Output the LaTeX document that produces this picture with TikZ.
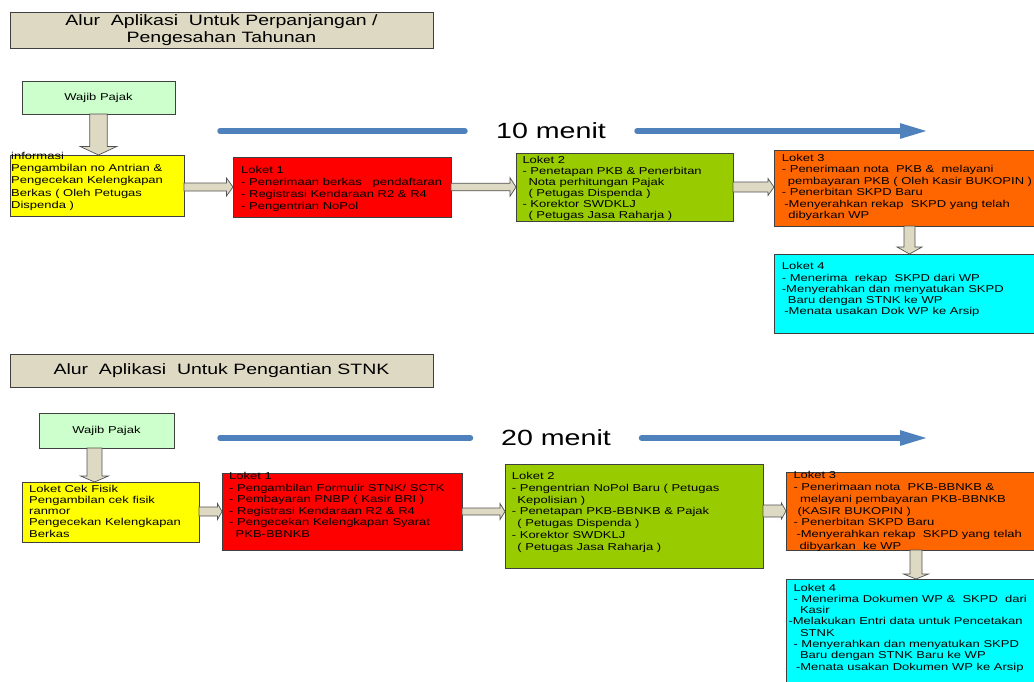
\documentclass[tikz,border=0pt]{standalone}
\usepackage{fontspec}
\setmainfont{Liberation Sans}[FakeStretch=1.3]
\usepackage[x11names,svgnames]{xcolor}
\usepackage{tikz}
\usetikzlibrary{calc,arrows.meta}

\definecolor{abu}{HTML}{DDD9C3}
\definecolor{garis}{HTML}{404040}
\definecolor{hijaumuda}{HTML}{CCFFCC}
\definecolor{kuning}{HTML}{FFFF00}
\definecolor{merah}{HTML}{FF0000}
\definecolor{hijau}{HTML}{99CC00}
\definecolor{oranye}{HTML}{FF6600}
\definecolor{biru}{HTML}{00FFFF}
\definecolor{garisbiru}{HTML}{4F81BD}

\tikzset{
  kotak/.style={draw=garis, line width=0.8pt, anchor=north west, inner sep=0pt, outer sep=0pt},
  judul/.style={kotak, fill=abu, line width=1pt, align=center, font=\fontsize{15}{17.6}\selectfont},
  wajib/.style={kotak, fill=hijaumuda, font=\fontsize{10}{12}\selectfont},
  isi/.style={anchor=north west, align=left, inner sep=0pt, font=\fontsize{10}{#1}\selectfont},
  isi/.default=11.6,
  menit/.style={inner ysep=0pt, font=\fontsize{22}{24}\selectfont},
  waktu/.style={draw=garisbiru, line width=5.5pt, line cap=round},
  blok/.style n args={3}{draw=garis!90, fill=abu, line width=0.7pt,
    to path={($(\tikztostart)!#1!-90:(\tikztotarget)$)
      -- ($(\tikztotarget)!#3!(\tikztostart)!#1!90:(\tikztostart)$)
      -- ($(\tikztotarget)!#3!(\tikztostart)!#2!90:(\tikztostart)$)
      -- (\tikztotarget)
      -- ($(\tikztotarget)!#3!(\tikztostart)!#2!-90:(\tikztostart)$)
      -- ($(\tikztotarget)!#3!(\tikztostart)!#1!-90:(\tikztostart)$)
      -- ($(\tikztostart)!#1!90:(\tikztotarget)$) -- cycle}},
}

\begin{document}
\begin{tikzpicture}[x=1pt, y=-1pt]
  \useasboundingbox (0,0) rectangle (1034,681);
  \clip (0,0) rectangle (1034,681);

  % perpanjangan / pengesahan
  \node[judul, minimum width=423pt, minimum height=36pt] (judul1) at (10,12)
    {Alur\ \ Aplikasi\ \ Untuk Perpanjangan /\\Pengesahan Tahunan};
  \node[wajib, minimum width=153pt, minimum height=33pt] (wp1) at (22,81) {Wajib Pajak};
  \node[kotak, fill=kuning, minimum width=174pt, minimum height=61pt] (info1) at (10,155) {};
  \node[kotak, fill=merah, minimum width=218pt, minimum height=60pt] (lk1a) at (233,157) {};
  \node[kotak, fill=hijau, minimum width=217pt, minimum height=68pt] (lk2a) at (516,153) {};
  \node[kotak, fill=oranye, minimum width=271pt, minimum height=76pt] (lk3a) at (774,150) {};
  \node[kotak, fill=biru, minimum width=271pt, minimum height=79pt] (lk4a) at (774,254) {};

  \node[isi=12.4, xshift=1pt, yshift=3.4pt] (t-info1) at (info1.north west)
    {informasi\\Pengambilan no Antrian \&\\Pengecekan Kelengkapan\\Berkas ( Oleh Petugas\\Dispenda )};
  \node[isi=12, xshift=8pt, yshift=-8.6pt] (t-lk1a) at (lk1a.north west)
    {Loket 1\\- Penerimaan berkas\ \ \ pendaftaran\\- Registrasi Kendaraan R2 \& R4\\- Pengentrian NoPol};
  \node[isi=11.1, xshift=6.3pt, yshift=-2.6pt] (t-lk2a) at (lk2a.north west)
    {Loket 2\\- Penetapan PKB \& Penerbitan\\\hspace*{6pt}Nota perhitungan Pajak\\\hspace*{6pt}( Petugas Dispenda )\\- Korektor SWDKLJ\\\hspace*{6pt}( Petugas Jasa Raharja )};
  \node[isi=11.5, xshift=7.7pt, yshift=-3.6pt] (t-lk3a) at (lk3a.north west)
    {Loket 3\\- Penerimaan nota\ \ PKB \&\ \ melayani\\\hspace*{6pt}pembayaran PKB ( Oleh Kasir BUKOPIN )\\- Penerbitan SKPD Baru\\\hspace*{2.5pt}-Menyerahkan rekap\ \ SKPD yang telah\\\hspace*{6.5pt}dibyarkan WP};
  \node[isi=11.25, xshift=7.7pt, yshift=-8.3pt] (t-lk4a) at (lk4a.north west)
    {Loket 4\\- Menerima\ \ rekap\ \ SKPD dari WP\\-Menyerahkan dan menyatukan SKPD\\\hspace*{6pt}Baru dengan STNK ke WP\\\hspace*{2.5pt}-Menata usakan Dok WP ke Arsip};

  \coordinate (w1a) at (220,131);
  \coordinate (w1b) at (928,131);
  \node[menit, inner xsep=31pt] (m1) at (551,131) {10 menit};
  \draw[waktu] (w1a) -- (m1.west);
  \draw[waktu, -{Triangle[length=28pt,width=14pt]}] (m1.east) -- (w1b);

  \draw[blok={8.7pt}{18.3pt}{8.5pt}] (wp1.south) to (wp1.south |- info1.north);
  \draw[blok={4pt}{9pt}{6.5pt}] (info1.east |- lk1a.west) to (lk1a.west);
  \draw[blok={3.8pt}{9.3pt}{6pt}] (lk1a.east) to (lk1a.east -| lk2a.west);
  \draw[blok={5pt}{8.5pt}{6pt}] (lk2a.east) to (lk2a.east -| lk3a.west);
  \draw[blok={5.5pt}{12.5pt}{7pt}] (lk3a.south) to (lk3a.south |- lk4a.north);

  % pengantian stnk
  \node[judul, minimum width=423pt, minimum height=33pt] (judul2) at (10,354)
    {Alur\ \ Aplikasi\ \ Untuk Pengantian STNK};
  \node[wajib, minimum width=135pt, minimum height=35pt] (wp2) at (39,413) {Wajib Pajak};
  \node[kotak, fill=kuning, minimum width=177pt, minimum height=60pt] (info2) at (22,482) {};
  \node[kotak, fill=merah, minimum width=240pt, minimum height=77pt] (lk1b) at (222,473) {};
  \node[kotak, fill=hijau, minimum width=258pt, minimum height=104pt] (lk2b) at (505,464) {};
  \node[kotak, fill=oranye, minimum width=260pt, minimum height=78pt] (lk3b) at (786,472) {};
  \node[kotak, fill=biru, minimum width=260pt, minimum height=110pt] (lk4b) at (786,579) {};

  \node[isi=11.3, xshift=7pt, yshift=-2.6pt] (t-info2) at (info2.north west)
    {Loket Cek Fisik\\Pengambilan cek fisik\\ranmor\\Pengecekan Kelengkapan\\Berkas};
  \node[isi=11.5, xshift=7pt, yshift=0.7pt] (t-lk1b) at (lk1b.north west)
    {Loket 1\\- Pengambilan Formulir STNK/ SCTK\\- Pembayaran PNBP ( Kasir BRI )\\- Registrasi Kendaraan R2 \& R4\\- Pengecekan Kelengkapan Syarat\\\hspace*{6.5pt}PKB-BBNKB};
  \node[isi=11.8, xshift=6.7pt, yshift=-8pt] (t-lk2b) at (lk2b.north west)
    {Loket 2\\- Pengentrian NoPol Baru ( Petugas\\\hspace*{5.5pt}Kepolisian )\\- Penetapan PKB-BBNKB \& Pajak\\\hspace*{5.5pt}( Petugas Dispenda )\\- Korektor SWDKLJ\\\hspace*{5.5pt}( Petugas Jasa Raharja )};
  \node[isi=11.8, xshift=7.3pt, yshift=0.7pt] (t-lk3b) at (lk3b.north west)
    {Loket 3\\- Penerimaan nota\ \ PKB-BBNKB \&\\\hspace*{6.5pt}melayani pembayaran PKB-BBNKB\\\hspace*{4pt}(KASIR BUKOPIN )\\- Penerbitan SKPD Baru\\\hspace*{3pt}-Menyerahkan rekap\ \ SKPD yang telah\\\hspace*{6pt}dibyarkan\ \ ke WP};
  \node[isi=11.3, xshift=2.3pt, yshift=-4.6pt] (t-lk4b) at (lk4b.north west)
    {\hspace*{5pt}Loket 4\\\hspace*{5pt}- Menerima Dokumen WP \&\ \ SKPD\ \ dari\\\hspace*{11.5pt}Kasir\\-Melakukan Entri data untuk Pencetakan\\\hspace*{11.5pt}STNK\\\hspace*{5pt}- Menyerahkan dan menyatukan SKPD\\\hspace*{11.5pt}Baru dengan STNK Baru ke WP\\\hspace*{7.5pt}-Menata usakan Dokumen WP ke Arsip};

  \coordinate (w2a) at (220,438);
  \coordinate (w2b) at (928,438);
  \node[menit, inner xsep=30.5pt] (m2) at (556,438) {20 menit};
  \draw[waktu] (w2a) -- (m2.west);
  \draw[waktu, -{Triangle[length=28pt,width=14pt]}] (m2.east) -- (w2b);

  \coordinate (a2) at ([xshift=-12pt]wp2.south);
  \draw[blok={7.5pt}{14pt}{6pt}] (a2) to (a2 |- info2.north);
  \draw[blok={4.5pt}{8pt}{4.5pt}] (info2.east |- lk1b.west) to (lk1b.west);
  \draw[blok={3.5pt}{8pt}{5pt}] (lk1b.east) to (lk1b.east -| lk2b.west);
  \draw[blok={6pt}{8pt}{4.5pt}] (lk2b.east |- lk3b.west) to (lk3b.west);
  \draw[blok={6pt}{12.5pt}{5pt}] (lk3b.south) to (lk3b.south |- lk4b.north);
\end{tikzpicture}
\end{document}
